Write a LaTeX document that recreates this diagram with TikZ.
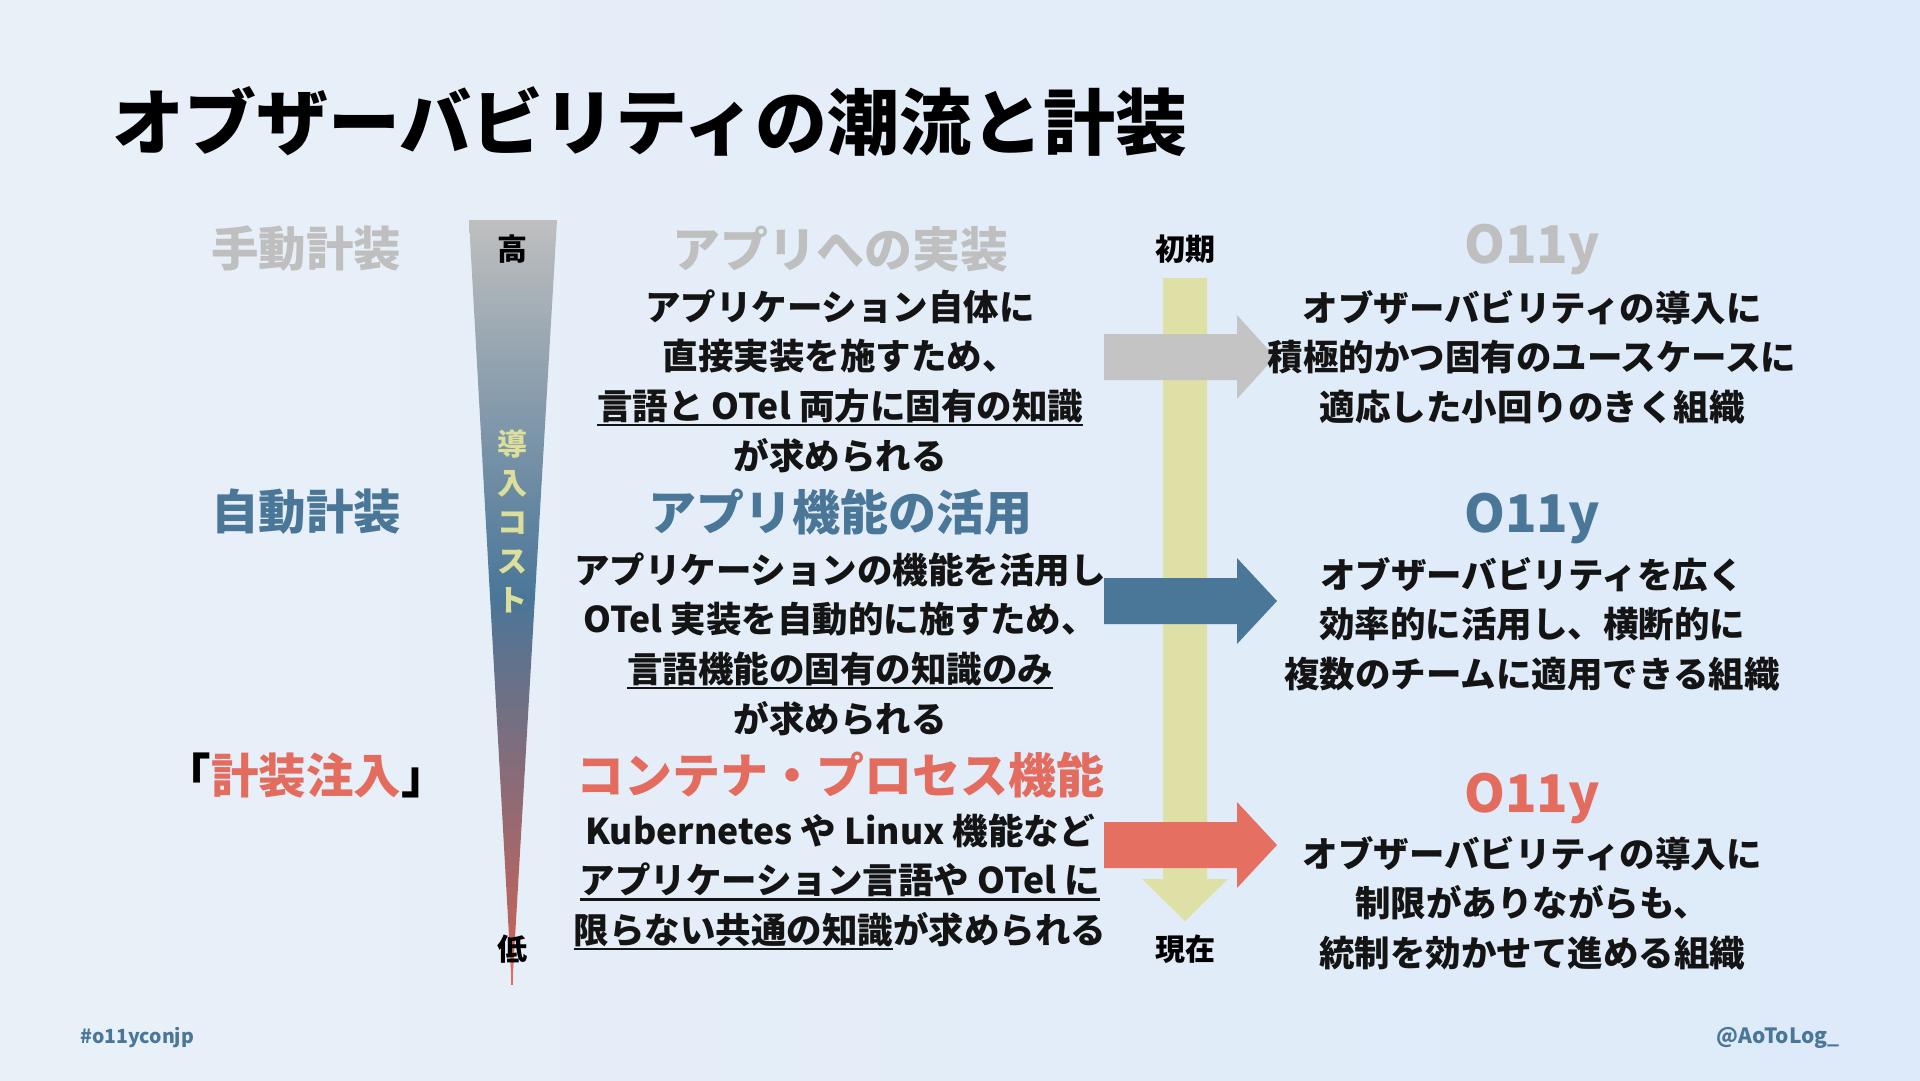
\documentclass[tikz,border=0pt]{standalone}
\usepackage{fontspec}
\setmainfont{Noto Sans CJK JP}
\definecolor{bgL}{HTML}{E9F0F8}
\definecolor{bgR}{HTML}{DDEAF9}
\definecolor{cgray}{HTML}{BFBFBF}
\definecolor{cblue}{HTML}{4A7698}
\definecolor{cred}{HTML}{E36C5F}
\definecolor{cyel}{HTML}{DEE0A6}
\definecolor{cyeltxt}{HTML}{DCDE9C}
\definecolor{agray}{HTML}{C4C4C4}
\definecolor{ared}{HTML}{E56F61}
\definecolor{ink}{HTML}{141414}
\newsavebox\ulbox
\newcommand\ulx[1]{\sbox\ulbox{#1}\rlap{\rule[-7pt]{\wd\ulbox}{2.6pt}}\usebox\ulbox}
\begin{document}
\begin{tikzpicture}[x=1pt,y=-1pt,
  title/.style={font=\fontsize{72}{76}\selectfont\bfseries, text=black, anchor=west, inner sep=0},
  lhead/.style={font=\fontsize{47.5}{52}\selectfont\bfseries, inner sep=0},
  mhead/.style={font=\fontsize{48}{52}\selectfont\bfseries, inner sep=0},
  ohead/.style={font=\fontsize{52}{56}\selectfont\bfseries, inner sep=0},
  body/.style={font=\fontsize{35.5}{49.6}\selectfont\bfseries, text=ink, align=center, inner sep=0},
  small/.style={font=\fontsize{30}{33}\selectfont\bfseries, text=black, inner sep=0},
  foot/.style={font=\fontsize{21}{24}\selectfont\bfseries, text=cblue, inner sep=0}
]
\useasboundingbox (0,0) rectangle (1920,1080);
\shade[left color=bgL, right color=bgR] (0,0) rectangle (1920,1080);

% title
\node[title] (title) at (112,122) {オブザーバビリティの潮流と計装};

% left labels
\node[lhead, text=cgray] (manual) at (306,249) {手動計装};
\node[lhead, text=cblue] (auto) at (306,512) {自動計装};
\node[lhead, text=cred] (inject) at (306,775) {\textcolor{black}{「}計装注入\textcolor{black}{」}};

% cone
\shade[top color=cgray, bottom color=cred!90!black, middle color=cblue]
  (469,220) -- (557,220) -- (513,972) -- (511,972) -- cycle;
\draw[cred, line width=1.5pt] (512,960) -- (512,985);
\node[small] (high) at (512,249) {高};
\node[small] (low) at (512,949) {低};
\node[font=\fontsize{30}{39}\selectfont\bfseries, text=cyeltxt, align=center, inner sep=0] (cost) at (512,521) {導\\入\\コ\\ス\\ト};

% middle column
\node[mhead, text=cgray] (m1h) at (840,249) {アプリへの実装};
\node[body] (m1) at (840,381) {アプリケーション自体に\\直接実装を施すため、\\\ulx{言語と OTel 両方に固有の知識}\\が求められる};
\node[mhead, text=cblue] (m2h) at (840,512) {アプリ機能の活用};
\node[body] (m2) at (840,644) {アプリケーションの機能を活用し\\OTel 実装を自動的に施すため、\\\ulx{言語機能の固有の知識のみ}\\が求められる};
\node[mhead, text=cred] (m3h) at (840,775) {コンテナ・プロセス機能};
\node[body] (m3) at (840,882) {Kubernetes や Linux 機能など\\\ulx{アプリケーション言語や OTel に}\\\ulx{限らない共通の知識}が求められる};

% timeline
\fill[cyel] (1163,278) -- (1207,278) -- (1207,879) -- (1228,879) -- (1185,921) -- (1142,879) -- (1163,879) -- cycle;
\node[small] (early) at (1185,249) {初期};
\node[small] (now) at (1185,949) {現在};

% horizontal arrows
\fill[agray] (1104,334) -- (1237,334) -- (1237,315) -- (1275,357) -- (1237,399) -- (1237,380) -- (1104,380) -- cycle;
\fill[cblue] (1104,578) -- (1237,578) -- (1237,558) -- (1277,601) -- (1237,644) -- (1237,624) -- (1104,624) -- cycle;
\fill[ared] (1104,822) -- (1237,822) -- (1237,802) -- (1277,845) -- (1237,888) -- (1237,868) -- (1104,868) -- cycle;

% right column
\node[ohead, text=cgray] (r1h) at (1532,249) {O11y};
\node[body] (r1) at (1532,357) {オブザーバビリティの導入に\\積極的かつ固有のユースケースに\\適応した小回りのきく組織};
\node[ohead, text=cblue] (r2h) at (1532,518) {O11y};
\node[body] (r2) at (1532,624) {オブザーバビリティを広く\\効率的に活用し、横断的に\\複数のチームに適用できる組織};
\node[ohead, text=cred] (r3h) at (1532,798) {O11y};
\node[body] (r3) at (1532,903) {オブザーバビリティの導入に\\制限がありながらも、\\統制を効かせて進める組織};

% footer
\node[foot, anchor=west, font=\fontsize{19.5}{22}\selectfont\bfseries] (tag) at (80,1038) {\#o11yconjp};
\node[foot, anchor=east] (handle) at (1840,1038) {@AoToLog\_};
\end{tikzpicture}
\end{document}
